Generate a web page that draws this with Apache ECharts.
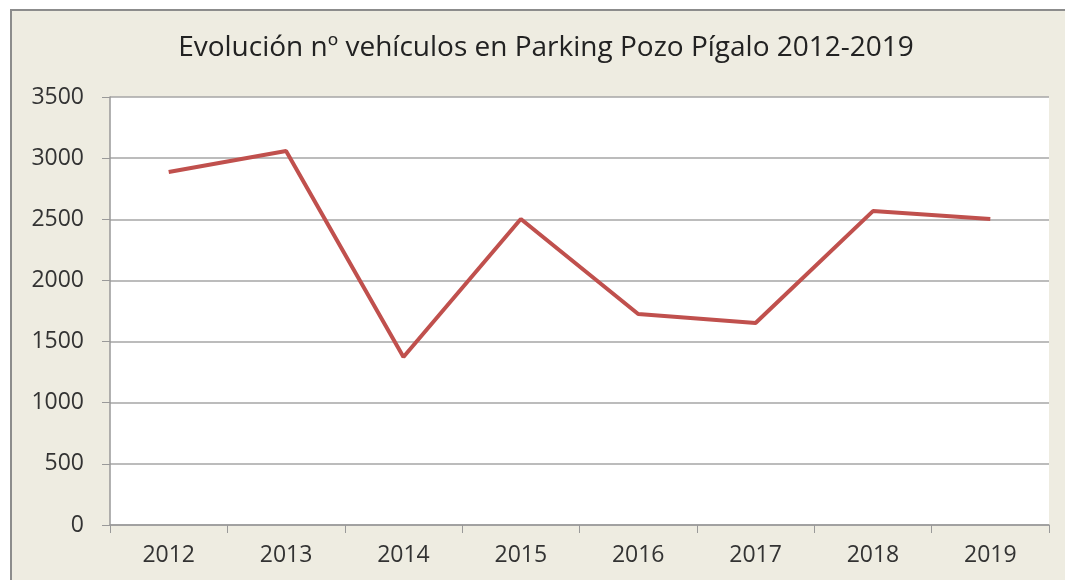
<!DOCTYPE html>
<html lang="es">

<head>
    <meta charset="UTF-8">
    <title>Parking Pozo Pígalo</title>
    <style>
        html, body { margin: 0; padding: 0; background: #fff; }
    </style>
</head>

<body>
    <div id="main" style="width: 1065px;height: 580px;"></div>
    <script src="https://cdn.jsdelivr.net/npm/echarts@6/dist/echarts.min.js"></script>
    <script>
        var years = ['2012', '2013', '2014', '2015', '2016', '2017', '2018', '2019'];
        var vehiculos = [2886, 3058, 1374, 2502, 1725, 1652, 2567, 2502];
        var yTicks = [0, 500, 1000, 1500, 2000, 2500, 3000, 3500];

        var chart = echarts.init(document.getElementById('main'));
        var font = '"Open Sans", "DejaVu Sans", sans-serif';

        chart.setOption({
            backgroundColor: '#ffffff',
            animation: false,
            graphic: [
                {
                    type: 'rect',
                    z: -10,
                    shape: { x: 11, y: 10, width: 1200, height: 700 },
                    style: { fill: '#EEECE1', stroke: '#8c8c8c', lineWidth: 2 }
                }
            ],
            title: {
                text: 'Evolución nº vehículos en Parking Pozo Pígalo 2012-2019',
                left: 541,
                top: 29,
                textAlign: 'center',
                textStyle: {
                    fontFamily: font,
                    fontSize: 28,
                    fontWeight: 'normal',
                    color: '#222'
                }
            },
            grid: {
                show: true,
                left: 110,
                right: 16,
                top: 97,
                bottom: 55,
                backgroundColor: '#ffffff',
                borderWidth: 0
            },
            xAxis: {
                type: 'category',
                data: years,
                boundaryGap: true,
                axisLine: { lineStyle: { color: '#999', width: 1.5 } },
                axisTick: { show: true, length: 8, inside: false, lineStyle: { color: '#999' } },
                axisLabel: {
                    margin: 19,
                    fontFamily: font,
                    fontSize: 23,
                    color: '#333'
                },
                splitLine: { show: false }
            },
            yAxis: {
                type: 'value',
                min: yTicks[0],
                max: yTicks[yTicks.length - 1],
                interval: 500,
                axisLine: { show: true, lineStyle: { color: '#999', width: 1.5 } },
                axisTick: { show: true, length: 8, lineStyle: { color: '#999' } },
                axisLabel: {
                    margin: 26,
                    fontFamily: font,
                    fontSize: 23,
                    color: '#333',
                    formatter: function (v) { return String(v); }
                },
                splitLine: { show: true, lineStyle: { color: '#a6a6a6', width: 1.5 } }
            },
            series: [
                {
                    name: 'Vehículos',
                    type: 'line',
                    data: vehiculos,
                    symbol: 'none',
                    lineStyle: { color: '#C0504D', width: 4 },
                    itemStyle: { color: '#C0504D' }
                }
            ]
        });
    </script>
</body>

</html>
